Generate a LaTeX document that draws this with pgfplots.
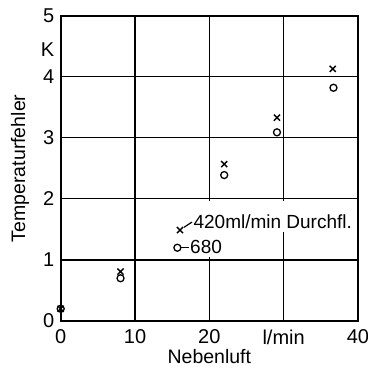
\documentclass[border=0pt]{standalone}
\usepackage{fontspec}
\setmainfont{Liberation Sans}
\usepackage{pgfplots}
\pgfplotsset{compat=1.18}
\begin{document}
\begin{tikzpicture}
\begin{axis}[
  scale only axis,
  width=297.3pt, height=305.3pt,
  xmin=0, xmax=40, ymin=0, ymax=5,
  xtick={0,10,20,30,40},
  xticklabels={0,10,20,l/min,40},
  ytick={0,1,2,3,4,5},
  extra y ticks={4.45},
  extra y tick labels={K},
  extra y tick style={grid=none, major tick length=0pt},
  grid=major,
  major grid style={black, line width=1.2pt},
  axis line style={black, line width=2.2pt},
  major tick length=0pt,
  /pgf/number format/assume math mode=true,
  tick label style={font=\fontsize{20}{23}\selectfont},
  xticklabel style={yshift=-5pt},
  yticklabel style={xshift=-3pt},
  xlabel={Nebenluft},
  ylabel={Temperaturfehler},
  label style={font=\fontsize{19.5}{22}\selectfont},
  xlabel style={at={(axis description cs:0.5,-0.117)}, anchor=center},
  ylabel style={at={(axis description cs:-0.137,0.5)}, anchor=center},
  clip=false,
]
\addplot[only marks, mark=x, mark size=4.3pt, mark options={line width=1.4pt}] coordinates {
 (0,0.2) (8.05,0.81) (16.05,1.49) (22.0,2.57) (29.1,3.33) (36.6,4.13)
};
\addplot[only marks, mark=o, mark size=3.5pt, mark options={line width=1.3pt}] coordinates {
 (0,0.2) (8.05,0.70) (15.7,1.20) (22.0,2.39) (29.1,3.09) (36.7,3.82)
};
\fill[white] (axis cs:19.6,1.04) rectangle (axis cs:20.4,1.96);
\fill[white] (axis cs:29.6,1.46) rectangle (axis cs:30.4,1.96);
\draw[line width=1.2pt] (axis cs:16.6,1.535) -- (axis cs:17.66,1.62);
\draw[line width=1.2pt] (axis cs:16.2,1.20) -- (axis cs:17.3,1.20);
\node[anchor=base west, inner sep=0pt, font=\fontsize{19}{22}\selectfont] at (axis cs:17.85,1.517) {420ml/min Durchfl.};
\node[anchor=base west, inner sep=0pt, font=\fontsize{19}{22}\selectfont] at (axis cs:17.4,1.108) {680};
\end{axis}
\pgfresetboundingbox
\path[use as bounding box] (current axis.south west) ++(-60.7pt,-47pt) rectangle ++(368pt,368pt);
\end{tikzpicture}
\end{document}
